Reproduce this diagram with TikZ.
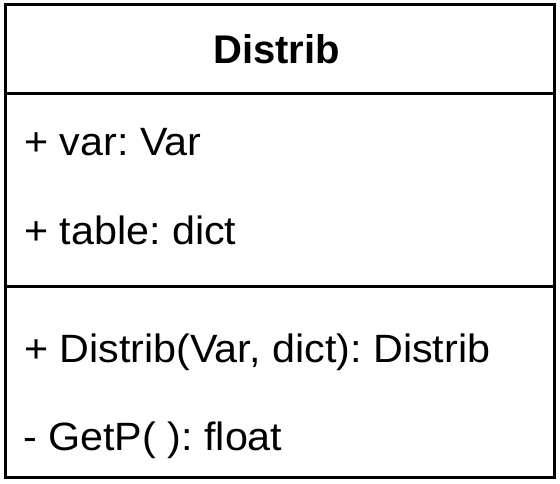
\documentclass[tikz,border=0pt]{standalone}
\usepackage{fontspec}
\setmainfont{Liberation Sans}
\frenchspacing
\newcommand\wtext[1]{\scalebox{1.045}[1]{#1}}
\tikzset{
  umlbox/.style={draw=black, line width=3pt, fill=white},
  divider/.style={draw=black, line width=3pt},
  member/.style={anchor=base west, inner sep=0pt, font=\fontsize{39.5}{46}\selectfont},
  classname/.style={anchor=base, inner sep=0pt, font=\fontsize{40}{46}\selectfont\bfseries},
}
\begin{document}
\begin{tikzpicture}[x=1pt,y=-1pt]
\useasboundingbox (0,0) rectangle (560,483);
\coordinate (tl) at (5.5,4.5);
\coordinate (br) at (554.5,477.5);
\draw[umlbox] (tl) rectangle (br);
\coordinate (d1l) at (5.5,93.5);
\coordinate (d1r) at (554.5,93.5);
\coordinate (d2l) at (5.5,286);
\coordinate (d2r) at (554.5,286);
\draw[divider] (d1l) -- (d1r);
\draw[divider] (d2l) -- (d2r);
\node[classname] (title) at (276.5,63) {Distrib};
\node[member] (a1) at (24,155) {\wtext{+ var: Var}};
\node[member] (a2) at (24,244) {\wtext{+ table: dict}};
\node[member] (m1) at (24,362.5) {\wtext{+ Distrib(Var, dict): Distrib}};
\node[member] (m2) at (23,450.5) {\wtext{- GetP( ): float}};
\end{tikzpicture}
\end{document}
